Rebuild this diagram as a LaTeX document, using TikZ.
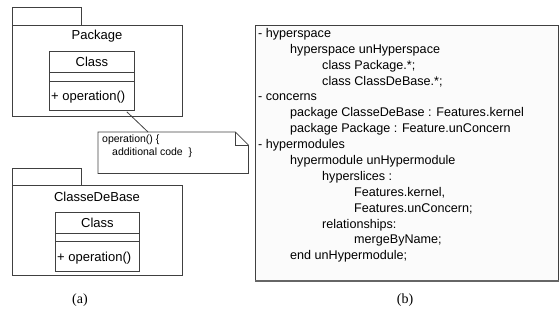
\documentclass[tikz,border=0pt]{standalone}
\usepackage{fontspec}
\setmainfont{Liberation Sans}
\newfontfamily\capfont{Liberation Serif}
\usetikzlibrary{calc}

\begin{document}
\begin{tikzpicture}[x=1pt,y=-1pt,
    every node/.style={font=\fontsize{13}{15}\selectfont,inner sep=0pt},
    box/.style={draw=black!75,line width=0.8pt},
    txt/.style={anchor=west},
    spec/.style={anchor=west,font=\fontsize{12.6}{15}\selectfont},
    small/.style={anchor=west,font=\fontsize{10.5}{12}\selectfont},
    caption/.style={font=\capfont\fontsize{14}{16}\selectfont}]
\useasboundingbox (0,0) rectangle (559,326);
% (a) package Package
\draw[box] (12,7) rectangle (81,25);
\node[box,minimum width=170,minimum height=91,anchor=north west] (pkgA) at (12,25) {};
\node (pkgAname) at (97,36) {Package};
\node[box,minimum width=85,minimum height=59,anchor=north west] (clsA) at (49,51) {};
\draw[box] ($(clsA.north west)+(0,21)$) -- ($(clsA.north east)+(0,21)$);
\draw[box] ($(clsA.north west)+(0,30)$) -- ($(clsA.north east)+(0,30)$);
\node at ($(clsA.north)+(0,10.5)$) {Class};
\node[txt] at ($(clsA.south west)+(2,-14)$) {+ operation()};
% note
\node[minimum width=150,minimum height=41,anchor=north west] (note) at (98,132) {};
\draw[box] (note.north west) -- ($(note.north east)+(-13,0)$) -- ($(note.north east)+(0,13)$)
    -- (note.south east) -- (note.south west) -- cycle;
\draw[box] ($(note.north east)+(-13,0)$) -- ($(note.north east)+(-13,13)$) -- ($(note.north east)+(0,13)$);
\node[small] at ($(note.north west)+(4,8)$) {operation() \{};
\node[small] at ($(note.north west)+(14,21)$) {additional code~~\}};
\coordinate (tie) at ($(clsA.south east)+(-8,1)$);
\draw[box] (tie) -- ($(note.north west)+(50,0)$);
% (a) package ClasseDeBase
\draw[box] (12,168) rectangle (81,185);
\node[box,minimum width=170,minimum height=90,anchor=north west] (pkgB) at (12,185) {};
\node (pkgBname) at (97,197) {ClasseDeBase};
\node[box,minimum width=84,minimum height=59,anchor=north west] (clsB) at (55,212) {};
\draw[box] ($(clsB.north west)+(0,21)$) -- ($(clsB.north east)+(0,21)$);
\draw[box] ($(clsB.north west)+(0,29)$) -- ($(clsB.north east)+(0,29)$);
\node at ($(clsB.north)+(0,10.5)$) {Class};
\node[txt] at ($(clsB.south west)+(2,-14)$) {+ operation()};
% (b) hyper/J spec
\node[box,fill=gray!3,minimum width=303,minimum height=255,anchor=north west] (code) at (255,25) {};
\draw[black!60,line width=1.6pt] (code.south west) -- (code.south east);
\foreach \lvl/\line [count=\i from 0] in {
    0/- hyperspace,
    1/hyperspace unHyperspace,
    2/class Package.*;,
    2/class ClassDeBase.*;,
    0/- concerns,
    1/package ClasseDeBase : Features.kernel,
    1/package Package : Feature.unConcern,
    0/- hypermodules,
    1/hypermodule unHypermodule,
    2/hyperslices :,
    3/{Features.kernel,},
    3/Features.unConcern;,
    2/relationships:,
    3/mergeByName;,
    1/end unHypermodule;}
  \node[spec] at ($(code.north west)+(3+32*\lvl,9+15.9*\i)$) {\line};
\node[caption] (capA) at (80,300) {(a)};
\node[caption] (capB) at (405,300) {(b)};
\end{tikzpicture}
\end{document}
